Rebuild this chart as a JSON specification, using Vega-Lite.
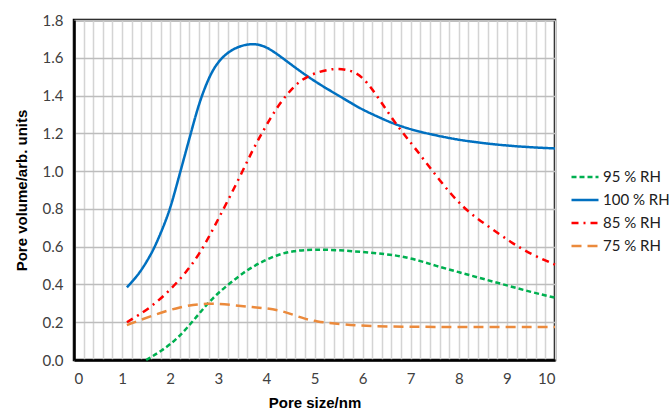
{
  "$schema": "https://vega.github.io/schema/vega-lite/v6.json",
  "width": 481,
  "height": 340,
  "autosize": {"type": "none"},
  "padding": {"left": 74, "top": 20, "right": 115, "bottom": 54},
  "background": "white",
  "config": {
    "view": {"stroke": "black", "strokeWidth": 2.5},
    "font": "Lato"
  },
  "data": {"values": [
    {"s":"100 % RH","x":1.1,"y":0.385},{"s":"100 % RH","x":1.3,"y":0.44},{"s":"100 % RH","x":1.45,"y":0.495},{"s":"100 % RH","x":1.65,"y":0.58},{"s":"100 % RH","x":1.85,"y":0.7},{"s":"100 % RH","x":2.0,"y":0.8},{"s":"100 % RH","x":2.15,"y":0.94},{"s":"100 % RH","x":2.3,"y":1.08},{"s":"100 % RH","x":2.45,"y":1.22},{"s":"100 % RH","x":2.6,"y":1.36},{"s":"100 % RH","x":2.8,"y":1.495},{"s":"100 % RH","x":3.0,"y":1.585},{"s":"100 % RH","x":3.3,"y":1.65},{"s":"100 % RH","x":3.65,"y":1.677},{"s":"100 % RH","x":3.95,"y":1.667},{"s":"100 % RH","x":4.25,"y":1.615},{"s":"100 % RH","x":4.5,"y":1.567},{"s":"100 % RH","x":4.75,"y":1.52},{"s":"100 % RH","x":5.0,"y":1.477},{"s":"100 % RH","x":5.25,"y":1.437},{"s":"100 % RH","x":5.5,"y":1.4},{"s":"100 % RH","x":5.75,"y":1.362},{"s":"100 % RH","x":6.0,"y":1.325},{"s":"100 % RH","x":6.3,"y":1.29},{"s":"100 % RH","x":6.6,"y":1.255},{"s":"100 % RH","x":7.0,"y":1.22},{"s":"100 % RH","x":7.5,"y":1.19},{"s":"100 % RH","x":8.0,"y":1.165},{"s":"100 % RH","x":8.5,"y":1.148},{"s":"100 % RH","x":9.0,"y":1.135},{"s":"100 % RH","x":9.5,"y":1.126},{"s":"100 % RH","x":10,"y":1.12},

    {"s":"85 % RH","x":1.1,"y":0.2},{"s":"85 % RH","x":1.58,"y":0.274},{"s":"85 % RH","x":2.0,"y":0.37},{"s":"85 % RH","x":2.34,"y":0.467},{"s":"85 % RH","x":2.62,"y":0.565},{"s":"85 % RH","x":2.9,"y":0.697},{"s":"85 % RH","x":3.17,"y":0.83},{"s":"85 % RH","x":3.45,"y":0.97},{"s":"85 % RH","x":3.69,"y":1.1},{"s":"85 % RH","x":3.94,"y":1.217},{"s":"85 % RH","x":4.2,"y":1.33},{"s":"85 % RH","x":4.45,"y":1.415},{"s":"85 % RH","x":4.7,"y":1.48},{"s":"85 % RH","x":5.0,"y":1.52},{"s":"85 % RH","x":5.4,"y":1.545},{"s":"85 % RH","x":5.7,"y":1.538},{"s":"85 % RH","x":6.0,"y":1.505},{"s":"85 % RH","x":6.35,"y":1.38},{"s":"85 % RH","x":6.7,"y":1.245},{"s":"85 % RH","x":7.1,"y":1.12},{"s":"85 % RH","x":7.6,"y":0.95},{"s":"85 % RH","x":8.1,"y":0.8},{"s":"85 % RH","x":8.6,"y":0.71},{"s":"85 % RH","x":9.1,"y":0.62},{"s":"85 % RH","x":9.5,"y":0.56},{"s":"85 % RH","x":10,"y":0.505},

    {"s":"95 % RH","x":1.5,"y":0.0},{"s":"95 % RH","x":1.8,"y":0.045},{"s":"95 % RH","x":2.17,"y":0.115},{"s":"95 % RH","x":2.55,"y":0.23},{"s":"95 % RH","x":2.9,"y":0.335},{"s":"95 % RH","x":3.24,"y":0.406},{"s":"95 % RH","x":3.59,"y":0.476},{"s":"95 % RH","x":3.87,"y":0.515},{"s":"95 % RH","x":4.2,"y":0.555},{"s":"95 % RH","x":4.55,"y":0.578},{"s":"95 % RH","x":5.0,"y":0.586},{"s":"95 % RH","x":5.5,"y":0.582},{"s":"95 % RH","x":6.0,"y":0.572},{"s":"95 % RH","x":6.5,"y":0.56},{"s":"95 % RH","x":6.8,"y":0.55},{"s":"95 % RH","x":7.2,"y":0.525},{"s":"95 % RH","x":7.5,"y":0.5},{"s":"95 % RH","x":8.0,"y":0.465},{"s":"95 % RH","x":8.5,"y":0.43},{"s":"95 % RH","x":9.0,"y":0.395},{"s":"95 % RH","x":9.5,"y":0.36},{"s":"95 % RH","x":10,"y":0.33},

    {"s":"75 % RH","x":1.1,"y":0.185},{"s":"75 % RH","x":1.65,"y":0.238},{"s":"75 % RH","x":2.2,"y":0.282},{"s":"75 % RH","x":2.76,"y":0.303},{"s":"75 % RH","x":3.31,"y":0.291},{"s":"75 % RH","x":3.73,"y":0.279},{"s":"75 % RH","x":4.0,"y":0.274},{"s":"75 % RH","x":4.3,"y":0.262},{"s":"75 % RH","x":4.55,"y":0.24},{"s":"75 % RH","x":4.8,"y":0.218},{"s":"75 % RH","x":5.05,"y":0.203},{"s":"75 % RH","x":5.4,"y":0.193},{"s":"75 % RH","x":5.9,"y":0.182},{"s":"75 % RH","x":6.5,"y":0.177},{"s":"75 % RH","x":7.5,"y":0.175},{"s":"75 % RH","x":8.5,"y":0.175},{"s":"75 % RH","x":10,"y":0.175}
  ]},
  "mark": {"type": "line", "interpolate": "basis", "strokeWidth": 2.5},
  "encoding": {
    "x": {
      "field": "x", "type": "quantitative",
      "scale": {"domain": [0, 10], "nice": false, "zero": false},
      "axis": {
        "title": "Pore size/nm",
        "values": [0,0.2,0.4,0.6,0.8,1,1.2,1.4,1.6,1.8,2,2.2,2.4,2.6,2.8,3,3.2,3.4,3.6,3.8,4,4.2,4.4,4.6,4.8,5,5.2,5.4,5.6,5.8,6,6.2,6.4,6.6,6.8,7,7.2,7.4,7.6,7.8,8,8.2,8.4,8.6,8.8,9,9.2,9.4,9.6,9.8,10],
        "labelExpr": "datum.value % 1 == 0 ? format(datum.value, 'd') : ''",
        "labelOverlap": false,
        "ticks": false,
        "grid": true,
        "gridColor": "#d4d4d4",
        "gridWidth": 1.5,
        "domainColor": "black",
        "domainWidth": 2.5,
        "labelFontSize": 15,
        "labelColor": "#404040",
        "labelPadding": 11,
        "titleFont": "Liberation Sans",
        "titleFontWeight": "bold",
        "titleFontSize": 15,
        "titleColor": "black",
        "titlePadding": 9
      }
    },
    "y": {
      "field": "y", "type": "quantitative",
      "scale": {"domain": [0, 1.8], "nice": false},
      "axis": {
        "title": "Pore volume/arb. units",
        "values": [0,0.2,0.4,0.6,0.8,1,1.2,1.4,1.6,1.8],
        "format": ".1f",
        "ticks": false,
        "grid": true,
        "gridColor": "#bdbdbd",
        "gridWidth": 1.5,
        "domainColor": "black",
        "domainWidth": 2.5,
        "labelFontSize": 15,
        "labelColor": "#404040",
        "labelPadding": 11,
        "titleFont": "Liberation Sans",
        "titleFontWeight": "bold",
        "titleFontSize": 15,
        "titleColor": "black",
        "titlePadding": 13
      }
    },
    "color": {
      "field": "s", "type": "nominal",
      "scale": {"domain": ["95 % RH","100 % RH","85 % RH","75 % RH"], "range": ["#00B050","#0070C0","#FF0000","#EB8A3C"]},
      "legend": {
        "title": null,
        "orient": "none",
        "legendX": 496,
        "legendY": 142,
        "symbolType": "stroke",
        "symbolSize": 729,
        "symbolStrokeWidth": 2.5,
        "labelFontSize": 15,
        "labelColor": "#202020",
        "labelOffset": 3,
        "rowPadding": -8
      }
    },
    "strokeDash": {
      "field": "s", "type": "nominal",
      "scale": {"domain": ["95 % RH","100 % RH","85 % RH","75 % RH"], "range": [[5,3],[1,0],[7,5,2,5],[10,6]]},
      "legend": {
        "title": null,
        "orient": "none",
        "legendX": 496,
        "legendY": 142,
        "symbolType": "stroke",
        "symbolSize": 729,
        "symbolStrokeWidth": 2.5,
        "labelFontSize": 15,
        "labelColor": "#202020",
        "labelOffset": 3,
        "rowPadding": -8
      }
    }
  }
}
